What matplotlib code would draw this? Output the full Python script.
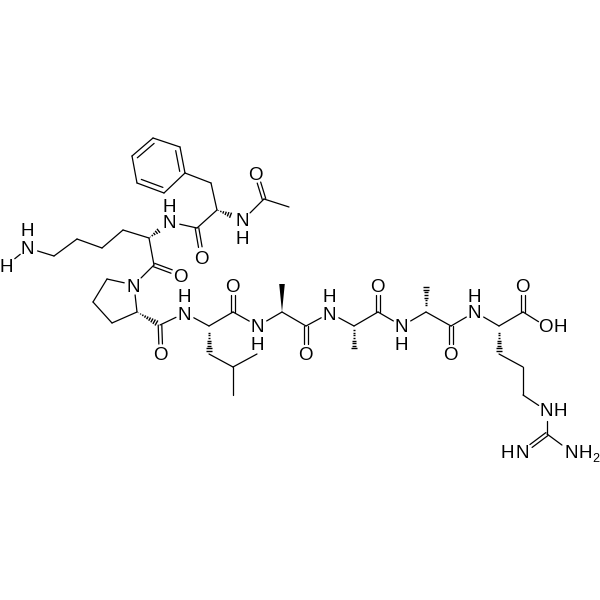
import numpy as np
import matplotlib
matplotlib.use("Agg")
import matplotlib.pyplot as plt

plt.rcParams['font.family'] = ['Liberation Sans', 'DejaVu Sans']

# atom positions, in pixels
atoms = {
    # lysine side chain
    "N1": (28, 248), "HN1": (7, 265), "C1": (54, 256), "C2": (77, 239), "C3": (102, 248), "C4": (123, 230),
    "CaK": (149, 238), "CK": (154, 265), "OK": (181, 275),
    # phenylalanine
    "Ph1": (153, 138), "Ph2": (180, 147), "Ph3": (185, 173), "Ph4": (164, 193), "Ph5": (137, 183), "Ph6": (132, 156),
    "CH2F": (211, 183), "CaF": (217, 210), "CF": (197, 228), "OF": (202, 257), "NF": (170, 222),
    # acetyl
    "NAc": (243, 220), "CAc": (264, 199), "OAc": (256, 173), "MeAc": (289, 207),
    # proline
    "NP": (134, 285), "P1": (107, 279), "P2": (93, 302), "P3": (112, 323), "CaP": (137, 312),
    "CP": (160, 325), "OP": (161, 354),
    # leucine
    "NL": (185, 313), "CaL": (209, 326), "CL": (233, 312), "OL": (233, 285),
    "CbL": (209, 354), "CgL": (233, 367), "Me1L": (257, 354), "Me2L": (233, 395),
    # alanine 1
    "NA1": (258, 326), "CaA1": (282, 312), "MeA1": (282, 284), "CA1": (306, 326), "OA1": (306, 354),
    # alanine 2
    "NA2": (330, 313), "CaA2": (354, 326), "MeA2": (354, 353), "CA2": (378, 312), "OA2": (378, 285),
    # alanine 3
    "NA3": (402, 326), "CaA3": (426, 312), "MeA3": (426, 284), "CA3": (451, 326), "OA3": (451, 354),
    # arginine
    "NR": (475, 312), "CaR": (499, 326), "CR": (523, 312), "OR": (523, 285), "OH": (547, 327),
    "CbR": (499, 354), "CgR": (523, 367), "CdR": (523, 395), "NeR": (547, 411), "CzR": (547, 434),
    "NH1": (523, 452), "NH2": (570, 451),
}

single_bonds = [
    ("N1", "C1"), ("N1", "HN1"), ("C1", "C2"), ("C2", "C3"), ("C3", "C4"), ("C4", "CaK"), ("CaK", "CK"),
    ("CK", "NP"), ("NP", "P1"), ("P1", "P2"), ("P2", "P3"), ("P3", "CaP"), ("CaP", "NP"),
    ("CP", "NL"), ("NL", "CaL"), ("CaL", "CL"), ("CL", "NA1"),
    ("CbL", "CgL"), ("CgL", "Me1L"), ("CgL", "Me2L"),
    ("NA1", "CaA1"), ("CaA1", "CA1"), ("CA1", "NA2"), ("NA2", "CaA2"), ("CaA2", "CA2"),
    ("CA2", "NA3"), ("NA3", "CaA3"), ("CaA3", "CA3"), ("CA3", "NR"), ("NR", "CaR"),
    ("CaR", "CR"), ("CR", "OH"), ("CbR", "CgR"), ("CgR", "CdR"), ("CdR", "NeR"),
    ("NeR", "CzR"), ("CzR", "NH2"),
    ("Ph3", "CH2F"), ("CH2F", "CaF"), ("CaF", "CF"), ("CF", "NF"),
    ("NAc", "CAc"), ("CAc", "MeAc"),
    ("Ph1", "Ph2"), ("Ph3", "Ph4"), ("Ph5", "Ph6"),
]
double_bonds = [
    ("CK", "OK"), ("CF", "OF"), ("CAc", "OAc"), ("CP", "OP"), ("CL", "OL"),
    ("CA1", "OA1"), ("CA2", "OA2"), ("CA3", "OA3"), ("CR", "OR"), ("CzR", "NH1"),
]
ring_double_bonds = [("Ph2", "Ph3"), ("Ph4", "Ph5"), ("Ph6", "Ph1")]
wedge_bonds = [("CaA1", "MeA1")]
hash_bonds = [
    ("CaK", "NF"), ("CaF", "NAc"), ("CaP", "CP"), ("CaL", "CbL"),
    ("CaA2", "MeA2"), ("CaA3", "MeA3"), ("CaR", "CbR"),
]

# text labels: text, x, y
labels = [
    ("N", 27, 247), ("H", 27, 230), ("H", 6, 265),
    ("N", 169, 222), ("H", 169, 205),
    ("N", 242, 220), ("H", 242, 237), ("O", 255, 173),
    ("O", 201, 257), ("O", 180, 275), ("N", 133, 285), ("O", 160, 354),
    ("N", 184, 313), ("H", 184, 295), ("O", 232, 285),
    ("N", 257, 326), ("H", 257, 343), ("O", 305, 354),
    ("N", 329, 313), ("H", 329, 295), ("O", 377, 285),
    ("N", 401, 326), ("H", 401, 343), ("O", 450, 354),
    ("N", 474, 312), ("H", 474, 295), ("O", 522, 285),
    ("O", 545, 326), ("H", 560, 326),
    ("N", 546, 410), ("H", 560, 410),
    ("H", 507, 452), ("N", 522, 452),
    ("N", 571, 452), ("H", 585, 452),
]
sub_labels = [("2", 592, 458)]

labelled = {"N1", "HN1", "OK", "OF", "NF", "NAc", "OAc", "NP", "OP", "NL", "OL", "NA1", "OA1",
            "NA2", "OA2", "NA3", "OA3", "NR", "OR", "OH", "NeR", "NH1", "NH2"}
GAP = 10

fig = plt.figure(figsize=(6, 6), dpi=100)
ax = fig.add_axes([0, 0, 1, 1])
ax.set_xlim(0, 600)
ax.set_ylim(600, 0)
ax.axis("off")


def ends(a, b):
    p = np.array(atoms[a], float)
    q = np.array(atoms[b], float)
    u = (q - p) / np.linalg.norm(q - p)
    if a in labelled:
        p = p + u * GAP
    if b in labelled:
        q = q - u * GAP
    return p, q, u


for a, b in single_bonds:
    p, q, u = ends(a, b)
    ax.plot([p[0], q[0]], [p[1], q[1]], color="black", lw=0.9, solid_capstyle="round")

for a, b in double_bonds:
    p, q, u = ends(a, b)
    n = np.array([-u[1], u[0]]) * 1.8
    for s in (-1, 1):
        ax.plot([p[0] + s * n[0], q[0] + s * n[0]], [p[1] + s * n[1], q[1] + s * n[1]],
                color="black", lw=0.9, solid_capstyle="round")

centre = np.mean([atoms[k] for k in ("Ph1", "Ph2", "Ph3", "Ph4", "Ph5", "Ph6")], axis=0)
for a, b in ring_double_bonds:
    p, q, u = ends(a, b)
    ax.plot([p[0], q[0]], [p[1], q[1]], color="black", lw=0.9, solid_capstyle="round")
    # inner line of the aromatic ring
    p2 = p + (centre - p) * 0.2
    q2 = q + (centre - q) * 0.2
    ax.plot([p2[0], q2[0]], [p2[1], q2[1]], color="black", lw=0.9, solid_capstyle="round")

for a, b in wedge_bonds:
    p, q, u = ends(a, b)
    n = np.array([-u[1], u[0]]) * 2.8
    ax.fill([p[0], q[0] + n[0], q[0] - n[0]], [p[1], q[1] + n[1], q[1] - n[1]], color="black", lw=0)

for a, b in hash_bonds:
    p, q, u = ends(a, b)
    n = np.array([-u[1], u[0]])
    length = np.linalg.norm(q - p)
    for t in np.arange(1.5, length - 3, 2.6):
        w = 3.4 * t / length
        c = p + u * t
        ax.plot([c[0] - n[0] * w, c[0] + n[0] * w], [c[1] - n[1] * w, c[1] + n[1] * w],
                color="black", lw=1.0, solid_capstyle="butt")

for txt, x, y in labels:
    ax.text(x, y, txt, fontsize=13.5, ha="center", va="center_baseline", color="black")
for txt, x, y in sub_labels:
    ax.text(x, y, txt, fontsize=9, ha="left", va="center_baseline", color="black")

fig.savefig("out.png", dpi=100)
